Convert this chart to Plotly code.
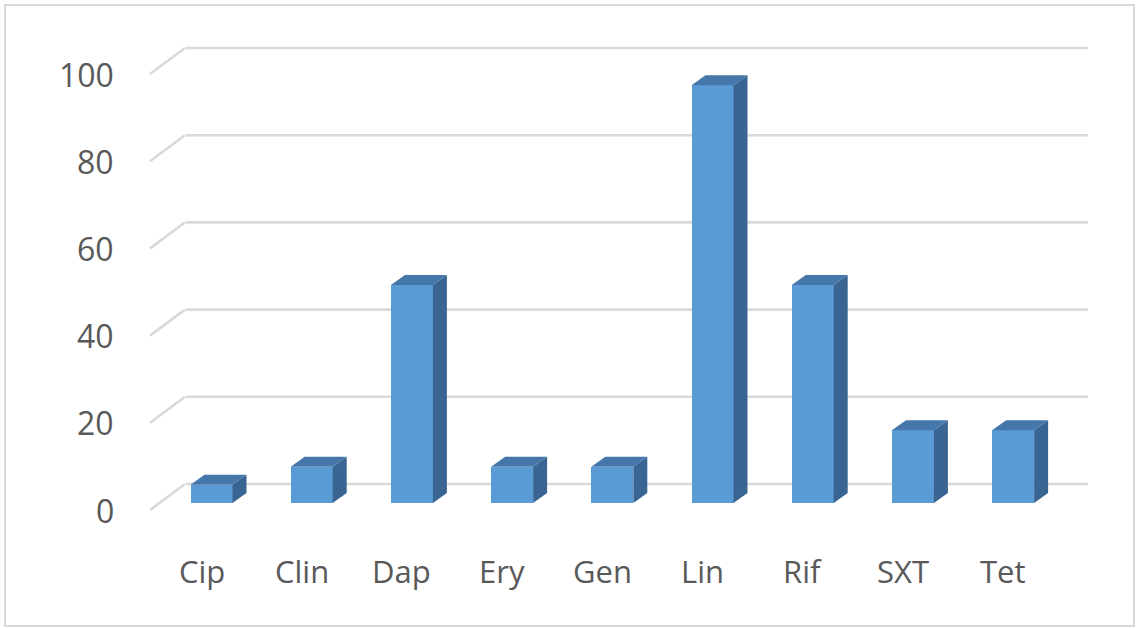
import plotly.graph_objects as go

# Share of isolates (%) per antibiotic
categories = ["Cip", "Clin", "Dap", "Ery", "Gen", "Lin", "Rif", "SXT", "Tet"]
values = [4.2, 8.3, 50.0, 8.3, 8.3, 95.8, 50.0, 16.7, 16.7]
y_ticks = [0, 20, 40, 60, 80, 100]

# Canvas geometry (pixels) used to derive axis ranges
W, H = 1136, 628
PX0, PX_STEP = 211.5, 100.2      # pixel centre of first category, spacing
PY0, PY_UNIT = 503.0, 4.36       # pixel of value 0 at bar plane, px per unit

def ux(px):
    return (px - PX0) / PX_STEP

def uy(py):
    return (PY0 - py) / PY_UNIT

x_range = [ux(0), ux(W)]
y_range = [uy(H), uy(0)]

BAR_W = 42 / PX_STEP
DEPTH_X = 14 / PX_STEP
DEPTH_Y = 10 / PY_UNIT

FRONT_COLOR = "#5B9BD5"
TOP_COLOR = "#4677AA"
SIDE_COLOR = "#3A6592"
GRID_COLOR = "#D9D9D9"
TEXT_COLOR = "#595959"

fig = go.Figure()

# Walls' gridlines: a slanted floor segment then a horizontal back line,
# kept beneath the bars
wall_front_x, wall_back_x, wall_right_x = ux(150), ux(185), ux(1088)
front_dy = -7 / PY_UNIT
back_dy = 19 / PY_UNIT
shapes = []
for v in y_ticks:
    shapes.append(dict(type="line", xref="x", yref="y", layer="below",
                       x0=wall_front_x, y0=v + front_dy,
                       x1=wall_back_x, y1=v + back_dy,
                       line=dict(color=GRID_COLOR, width=2.6)))
    shapes.append(dict(type="line", xref="x", yref="y", layer="below",
                       x0=wall_back_x + 0.01, y0=v + back_dy,
                       x1=wall_right_x, y1=v + back_dy,
                       line=dict(color=GRID_COLOR, width=2.6)))

# Chart frame
shapes.append(dict(type="rect", xref="paper", yref="paper",
                   x0=5 / W, x1=1134 / W, y0=1 - 626 / H, y1=1 - 5 / H,
                   line=dict(color=GRID_COLOR, width=2),
                   fillcolor="rgba(0,0,0,0)"))

xs = list(range(len(categories)))

# Side and top faces of each bar
for i, v in zip(xs, values):
    xl, xr = i - BAR_W / 2, i + BAR_W / 2
    fig.add_trace(go.Scatter(
        x=[xr, xr, xr + DEPTH_X, xr + DEPTH_X, xr],
        y=[0, v, v + DEPTH_Y, DEPTH_Y, 0],
        fill="toself", fillcolor=SIDE_COLOR, mode="lines",
        line=dict(width=0, color=SIDE_COLOR),
        hoverinfo="skip", showlegend=False))
    fig.add_trace(go.Scatter(
        x=[xl, xr, xr + DEPTH_X, xl + DEPTH_X, xl],
        y=[v, v, v + DEPTH_Y, v + DEPTH_Y, v],
        fill="toself", fillcolor=TOP_COLOR, mode="lines",
        line=dict(width=0, color=TOP_COLOR),
        hoverinfo="skip", showlegend=False))

# Front faces
fig.add_trace(go.Bar(
    x=xs, y=values, width=BAR_W, base=0,
    marker=dict(color=FRONT_COLOR, line=dict(width=0)),
    showlegend=False))

annotations = []
for v in y_ticks:
    annotations.append(dict(
        x=ux(116), y=v + front_dy, xref="x", yref="y",
        text=str(v), showarrow=False, xanchor="right", yanchor="middle",
        font=dict(family="Open Sans", size=32, color=TEXT_COLOR)))
for i, c in enumerate(categories):
    annotations.append(dict(
        x=i - 10 / PX_STEP, y=uy(571), xref="x", yref="y",
        text=c, showarrow=False, xanchor="center", yanchor="middle",
        font=dict(family="Open Sans", size=31, color=TEXT_COLOR)))

fig.update_layout(
    width=W, height=H,
    margin=dict(l=0, r=0, t=0, b=0),
    paper_bgcolor="white", plot_bgcolor="white",
    xaxis=dict(range=x_range, visible=False, fixedrange=True),
    yaxis=dict(range=y_range, visible=False, fixedrange=True),
    annotations=annotations,
    shapes=shapes,
    bargap=0,
)

fig.write_html("out.html")
